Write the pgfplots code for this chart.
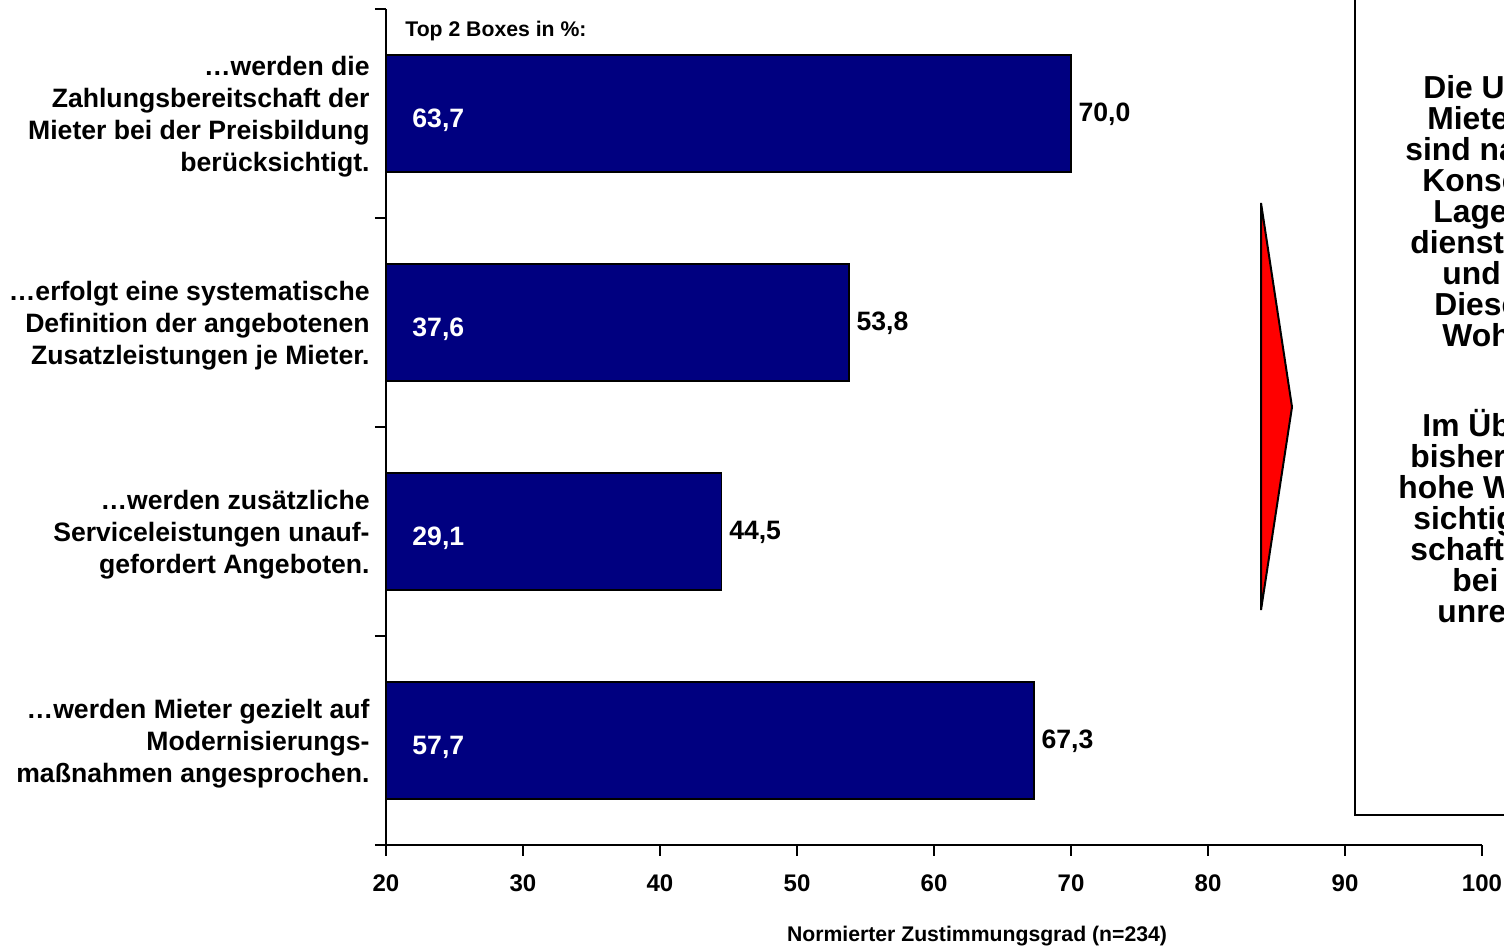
\documentclass[border=0pt]{standalone}
\usepackage{fontspec}
\setmainfont{Liberation Sans}
\usepackage{pgfplots}
\pgfplotsset{compat=1.18}
\usepackage{pgfplotstable}
\definecolor{barblue}{HTML}{000080}
\pgfplotstableread{
y val top2
3.5 70.0 63.7
2.5 53.8 37.6
1.5 44.5 29.1
0.5 67.3 57.7
}\datatab
\begin{document}
\begin{tikzpicture}
\useasboundingbox (0pt,0pt) rectangle (752pt,473pt);
\clip (0pt,0pt) rectangle (752pt,473pt);
\begin{axis}[
  at={(193pt,50.5pt)}, anchor=south west,
  scale only axis, width=548pt, height=418pt,
  xmin=20, xmax=100, ymin=0, ymax=4,
  axis x line*=bottom, axis y line*=left,
  axis line style={line width=1pt},
  xtick={20,30,...,100},
  ytick={0,1,2,3,4}, yticklabels={},
  tick align=outside, major tick length=5.5pt,
  tick style={line width=0.8pt, black},
  xtick pos=lower, ytick pos=left,
  /pgf/number format/assume math mode=true,
  /pgf/number format/.cd, fixed, fixed zerofill, precision=1, use comma, /pgfplots/.cd,
  xticklabel={\pgfmathprintnumber[fixed, precision=0, fixed zerofill=false]{\tick}},
  xticklabel style={font=\fontsize{12}{14}\selectfont\bfseries, yshift=-6pt},
  extra y ticks={0.5,1.5,2.5,3.5},
  extra y tick labels={
    {…werden Mieter gezielt auf\\Modernisierungs-\\maßnahmen angesprochen.},
    {…werden zusätzliche\\Serviceleistungen unauf-\\gefordert Angeboten.},
    {…erfolgt eine systematische\\Definition der angebotenen\\Zusatzleistungen je Mieter.},
    {…werden die\\Zahlungsbereitschaft der\\Mieter bei der Preisbildung\\berücksichtigt.}},
  extra y tick style={major tick length=0pt,
    yticklabel style={align=right, font=\fontsize{13.3}{16}\selectfont\bfseries, inner sep=0pt, xshift=-8pt, yshift=-1.5pt}},
  clip=false,
]
\addplot[xbar, bar width=58.5pt, fill=barblue, draw=black, line width=0.6pt,
  nodes near coords, point meta=x,
  every node near coord/.append style={font=\fontsize{13.3}{16}\selectfont\bfseries, black, anchor=west, inner sep=3.5pt, yshift=-0.5pt}]
  table[x=val, y=y] {\datatab};
\addplot[draw=none, mark=none, nodes near coords, point meta=explicit,
  every node near coord/.append style={font=\fontsize{13.3}{16}\selectfont\bfseries, white, anchor=west, inner sep=0pt, yshift=-3.5pt}]
  table[x expr=21.9, y=y, meta=top2] {\datatab};
\end{axis}
\begin{scope}[x=0.5pt,y=0.5pt]
\node[anchor=west, font=\fontsize{10.6}{12}\selectfont\bfseries, inner sep=0pt] at (405,915) {Top 2 Boxes in \%:};
\node[font=\fontsize{10.6}{12}\selectfont\bfseries, inner sep=0pt] at (977,10) {Normierter Zustimmungsgrad (n=234)};
% red arrow
\draw[fill=red, draw=black, line width=1pt] (1261,743) -- (1292,539) -- (1261,336) -- cycle;
% text box
\draw[line width=1.2pt] (1355,960) -- (1355,131) -- (1600,131);
\begin{scope}[every node/.style={anchor=base west, inner sep=0pt, font=\fontsize{15.9}{15.9}\selectfont\bfseries}]
\node at (1423,847) {Die Unterschiede};
\node at (1427,816) {Mieter};
\node at (1405,785) {sind nach};
\node at (1422,754) {Konsequenz};
\node at (1433,723) {Lage};
\node at (1410,692) {dienstleistungen};
\node at (1442,661) {und};
\node at (1434,630) {Diese};
\node at (1442,599) {Wohnung};
\node at (1422,509) {Im Übrigen};
\node at (1410,478) {bisher};
\node at (1398,447) {hohe Werte};
\node at (1413,416) {sichtigung};
\node at (1410,385) {schaft};
\node at (1452,354) {bei};
\node at (1437,323) {unrealistisch};
\end{scope}
\end{scope}
\end{tikzpicture}
\end{document}
